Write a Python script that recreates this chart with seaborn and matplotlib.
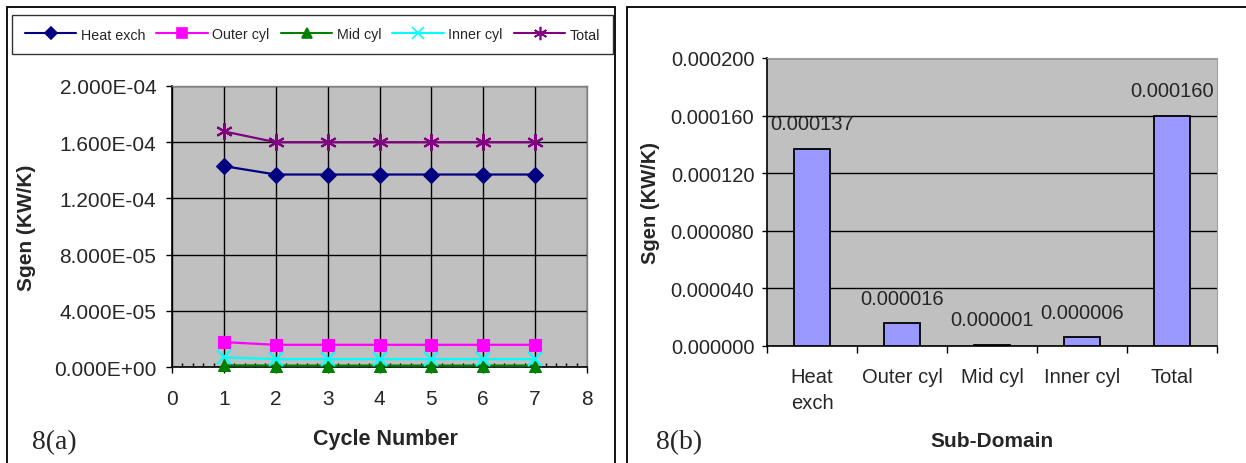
import numpy as np
import pandas as pd
import matplotlib
matplotlib.use("Agg")
import matplotlib.pyplot as plt
import matplotlib.ticker as mticker
from matplotlib.patches import Rectangle
import seaborn as sns

# ---------------- data ----------------
cycles = [1, 2, 3, 4, 5, 6, 7]
heat_exch = [1.43e-4, 1.37e-4, 1.37e-4, 1.37e-4, 1.37e-4, 1.37e-4, 1.37e-4]
outer_cyl = [1.77e-5, 1.58e-5, 1.58e-5, 1.58e-5, 1.58e-5, 1.58e-5, 1.58e-5]
mid_cyl = [1.2e-6, 1.0e-6, 1.0e-6, 1.0e-6, 1.0e-6, 1.0e-6, 1.0e-6]
inner_cyl = [6.8e-6, 5.6e-6, 5.6e-6, 5.6e-6, 5.6e-6, 5.6e-6, 5.6e-6]
total = [1.677e-4, 1.60e-4, 1.60e-4, 1.60e-4, 1.60e-4, 1.60e-4, 1.60e-4]
series_names = ["Heat exch", "Outer cyl", "Mid cyl", "Inner cyl", "Total"]

domains = ["Heat\nexch", "Outer cyl", "Mid cyl", "Inner cyl", "Total"]
domain_values = [0.000137, 0.000016, 0.000001, 0.000006, 0.000160]

# ---------------- style ----------------
sns.set_theme(style="white")
plt.rcParams["font.family"] = ["Liberation Sans", "DejaVu Sans"]

colors = {"Heat exch": "#000080", "Outer cyl": "#FF00FF", "Mid cyl": "#008000",
          "Inner cyl": "#00FFFF", "Total": "#800080"}
markers = {"Heat exch": "D", "Outer cyl": "s", "Mid cyl": "^",
           "Inner cyl": "x", "Total": (6, 2, 0)}
msizes = {"Heat exch": 8, "Outer cyl": 9, "Mid cyl": 9, "Inner cyl": 10, "Total": 12}

W, H = 1246, 464
fig = plt.figure(figsize=(W / 100, H / 100), dpi=100)
fig.patch.set_facecolor("white")

# panel borders (bottom of panels lies outside the picture)
for x0, x1 in [(7, 615), (627, 1252)]:
    fig.add_artist(Rectangle((x0 / W, -5 / H), (x1 - x0) / W, (H - 8 + 5) / H,
                             transform=fig.transFigure, fill=False,
                             edgecolor="black", linewidth=1.3))

# ---------------- left chart ----------------
ax1 = fig.add_axes([172 / W, 1 - 368 / H, (587 - 172) / W, (368 - 87) / H])
ax1.set_facecolor("#C0C0C0")
series_values = [heat_exch, outer_cyl, mid_cyl, inner_cyl, total]
for name, vals in zip(series_names, series_values):
    c = colors[name]
    sns.lineplot(x=cycles, y=vals, color=c, marker=markers[name],
                 markersize=msizes[name], markerfacecolor=c,
                 markeredgecolor=c,
                 markeredgewidth=1.5 if name in ("Inner cyl", "Total") else 0.8,
                 linewidth=1.6, ax=ax1, clip_on=False, zorder=3)

ax1.set_xlim(0, 8)
ax1.set_ylim(0, 2.0e-4)
ax1.xaxis.set_major_locator(mticker.MultipleLocator(1))
ax1.xaxis.set_minor_locator(mticker.MultipleLocator(0.2))
ax1.yaxis.set_major_locator(mticker.MultipleLocator(4e-5))
ax1.yaxis.set_major_formatter(mticker.FuncFormatter(lambda v, p: f"{v:.3E}"))
ax1.grid(True, which="major", color="black", linewidth=1.0)
ax1.set_axisbelow(True)
ax1.tick_params(axis="x", which="major", direction="out", length=4, width=1,
                color="black", pad=12, labelsize=15, bottom=True)
ax1.tick_params(axis="x", which="minor", direction="in", length=3, width=1,
                color="black", bottom=True)
ax1.tick_params(axis="y", which="major", direction="out", length=4.3, width=1,
                color="black", pad=7, labelsize=15, left=True)
ax1.set_xlabel("")
ax1.set_ylabel("")
for s in ["left", "bottom"]:
    ax1.spines[s].set_color("black")
    ax1.spines[s].set_linewidth(1.2)
for s in ["top", "right"]:
    ax1.spines[s].set_color("#808080")
    ax1.spines[s].set_linewidth(1.0)

fig.text(27 / W, 1 - 228 / H, "Sgen (KW/K)", rotation=90, ha="center",
         va="center", fontsize=15, fontweight="bold")
fig.text(385 / W, 1 - 440 / H, "Cycle Number", ha="center", va="center",
         fontsize=15.5, fontweight="bold")
fig.text(32 / W, 1 - 443 / H, "8(a)", ha="left", va="center", fontsize=20,
         family=["Liberation Serif", "DejaVu Serif"])

handles = [plt.Line2D([], [], color=colors[n], marker=markers[n],
                      markersize=msizes[n] * 0.8, markerfacecolor=colors[n],
                      markeredgecolor=colors[n], linewidth=1.5,
                      markeredgewidth=1.2) for n in series_names]
leg = fig.legend(handles, series_names, loc="center", ncol=5, mode="expand",
                 bbox_to_anchor=(12 / W, 1 - 55 / H, 601 / W, 39 / H),
                 frameon=True, fontsize=10.3, handlelength=3.6,
                 handletextpad=0.3, columnspacing=0.8, borderaxespad=0,
                 borderpad=0.9, fancybox=False)
leg.get_frame().set_edgecolor("black")
leg.get_frame().set_linewidth(1.0)

# ---------------- right chart ----------------
ax2 = fig.add_axes([767 / W, 1 - 347 / H, (1217 - 767) / W, (347 - 59) / H])
ax2.set_facecolor("#C0C0C0")
bdf = pd.DataFrame({"Domain": domains, "Sgen": domain_values})
sns.barplot(data=bdf, x="Domain", y="Sgen", color="#9999FF", saturation=1,
            edgecolor="black", linewidth=1.3, width=0.41, ax=ax2, zorder=3)
ax2.set_ylim(0, 0.0002)
ax2.set_xlim(-0.5, 4.5)
ax2.yaxis.set_major_locator(mticker.MultipleLocator(0.00004))
ax2.yaxis.set_major_formatter(mticker.FuncFormatter(lambda v, p: f"{v:.6f}"))
ax2.grid(True, axis="y", color="black", linewidth=1.0)
ax2.grid(False, axis="x")
ax2.set_axisbelow(True)
ax2.xaxis.set_minor_locator(mticker.FixedLocator(np.arange(-0.5, 5, 1.0)))
ax2.tick_params(axis="x", which="major", length=0, pad=15, labelsize=14.5)
ax2.tick_params(axis="x", which="minor", direction="out", length=5, width=1,
                color="black", bottom=True)
ax2.tick_params(axis="y", which="major", direction="out", length=3.6, width=1,
                color="black", pad=5.5, labelsize=14.5, left=True)
for lbl in ax2.get_xticklabels():
    lbl.set_linespacing(1.45)
ax2.set_xlabel("")
ax2.set_ylabel("")
for s in ["left", "bottom"]:
    ax2.spines[s].set_color("black")
    ax2.spines[s].set_linewidth(1.2)
for s in ["top", "right"]:
    ax2.spines[s].set_color("#A0A0A0")
    ax2.spines[s].set_linewidth(0.8)

for cont in ax2.containers:
    ax2.bar_label(cont, labels=[f"{v:.6f}" for v in domain_values],
                  padding=11, fontsize=14.5)

fig.text(650 / W, 1 - 203 / H, "Sgen (KW/K)", rotation=90, ha="center",
         va="center", fontsize=14.5, fontweight="bold")
fig.text(992 / W, 1 - 442 / H, "Sub-Domain", ha="center", va="center",
         fontsize=15, fontweight="bold")
fig.text(656 / W, 1 - 443 / H, "8(b)", ha="left", va="center", fontsize=20,
         family=["Liberation Serif", "DejaVu Serif"])

fig.savefig("out.png", dpi=100)
